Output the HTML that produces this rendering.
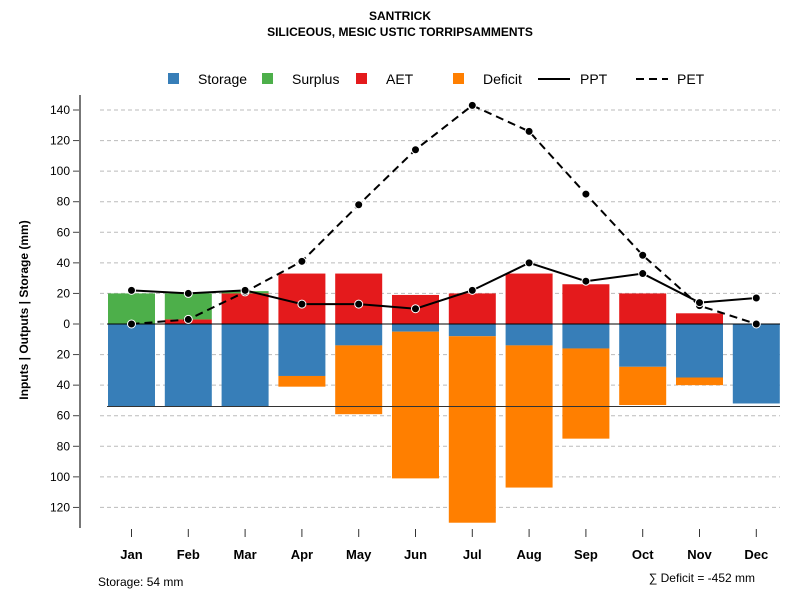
<!DOCTYPE html>
<html><head><meta charset="utf-8"><style>body{margin:0;background:#fff}svg{font-family:"Liberation Sans",sans-serif}</style></head>
<body>
<svg id="c" width="800" height="600"></svg>
<script>
const months=["Jan","Feb","Mar","Apr","May","Jun","Jul","Aug","Sep","Oct","Nov","Dec"];
const aet=[0,3,20,33,33,19,20,33,26,20,7,0];
const surplus=[20,17,1.5,0,0,0,0,0,0,0,0,0];
const storage=[54,54,54,34,14,5,8,14,16,28,35,52];
const deficit=[0,0,0,7,45,96,122,93,59,25,5,0];
const ppt=[22,20,22,13,13,10,22,40,28,33,14,17];
const pet=[0,3,21,41,78,114,143,126,85,45,12,0];
const posTicks=[0,20,40,60,80,100,120,140];
const negTicks=[20,40,60,80,100,120];
const awc=54;
const NS="http://www.w3.org/2000/svg";
const svg=document.getElementById('c');
const y=v=>324-v*1.5286;
const x=i=>131.5+i*56.8;
const bw=47;
function el(t,a,txt){const e=document.createElementNS(NS,t);for(const k in a)e.setAttribute(k,a[k]);if(txt!==undefined)e.textContent=txt;svg.appendChild(e);return e;}
let t;
t=el('text',{x:400,y:20,'text-anchor':'middle','font-size':12,'font-weight':'bold'},'SANTRICK');
t=el('text',{x:400,y:36,'text-anchor':'middle','font-size':12,'font-weight':'bold'},'SILICEOUS, MESIC USTIC TORRIPSAMMENTS');
// grid
posTicks.map(v=>v).concat(negTicks.map(v=>-v)).forEach(v=>{
 let g=el('line',{x1:100,x2:780,y1:y(v),y2:y(v),stroke:'#bbb','stroke-dasharray':'4,3'});
 let tk=el('line',{x1:73,x2:80,y1:y(v),y2:y(v),stroke:'#444'});
 let l=el('text',{x:70,y:y(v)+4,'text-anchor':'end','font-size':12},Math.abs(v));
});
let ax=el('line',{x1:80,x2:80,y1:95,y2:528,stroke:'#777','stroke-width':2});
t=el('text',{x:0,y:0,transform:'translate(28,310) rotate(-90)','text-anchor':'middle','font-size':12,'font-weight':'bold'},'Inputs | Outputs | Storage    (mm)');
function rect(xl,v1,v2,fill,name){const a=y(Math.max(v1,v2)),b=y(Math.min(v1,v2));const r=el('rect',{x:xl,y:a,width:bw,height:Math.max(0,b-a),fill:fill});}
months.forEach((m,i)=>{
 const xl=x(i)-bw/2;
 rect(xl,0,aet[i],'#E41A1C','aet-bar-'+m.toLowerCase());
 rect(xl,aet[i],aet[i]+surplus[i],'#4DAF4A','surplus-bar-'+m.toLowerCase());
 rect(xl,0,-storage[i],'#377EB8','storage-bar-'+m.toLowerCase());
 rect(xl,-storage[i],-storage[i]-deficit[i],'#FF7F00','deficit-bar-'+m.toLowerCase());
 let tk=el('line',{x1:x(i),x2:x(i),y1:529,y2:537,stroke:'#333'});
 let l=el('text',{x:x(i),y:559,'text-anchor':'middle','font-size':13,'font-weight':'bold'},m);
});
let z=el('line',{x1:107,x2:780,y1:y(0),y2:y(0),stroke:'#000'});
let s=el('line',{x1:107,x2:780,y1:y(-awc),y2:y(-awc),stroke:'#333'});
function series(d,dash,name){
 const p=el('polyline',{points:d.map((v,i)=>x(i)+','+y(v)).join(' '),fill:'none',stroke:'#000','stroke-width':2,'stroke-dasharray':dash});
 d.forEach((v,i)=>{const c=el('circle',{cx:x(i),cy:y(v),r:4,fill:'#000',stroke:'#fff','stroke-width':1});});
}
series(pet,'8,5','pet');series(ppt,'none','ppt');
// legend
const leg=[['Storage','#377EB8',168],['Surplus','#4DAF4A',262],['AET','#E41A1C',356],['Deficit','#FF7F00',453]];
leg.forEach(([n,c,lx])=>{let r=el('rect',{x:lx,y:73,width:11,height:11,fill:c});
 let l=el('text',{x:lx+30,y:84,'font-size':14},n);});
let l1=el('line',{x1:538,x2:570,y1:79,y2:79,stroke:'#000','stroke-width':2});
t=el('text',{x:580,y:84,'font-size':14},'PPT');
let l2=el('line',{x1:636,x2:668,y1:79,y2:79,stroke:'#000','stroke-width':2,'stroke-dasharray':'8,5'});
t=el('text',{x:677,y:84,'font-size':14},'PET');
t=el('text',{x:98,y:586,'font-size':12},'Storage: '+awc+' mm');
const tot=deficit.reduce((a,b)=>a+b,0);
t=el('text',{x:755,y:582,'text-anchor':'end','font-size':12},'∑ Deficit = -'+tot+' mm');
</script>
</body></html>
